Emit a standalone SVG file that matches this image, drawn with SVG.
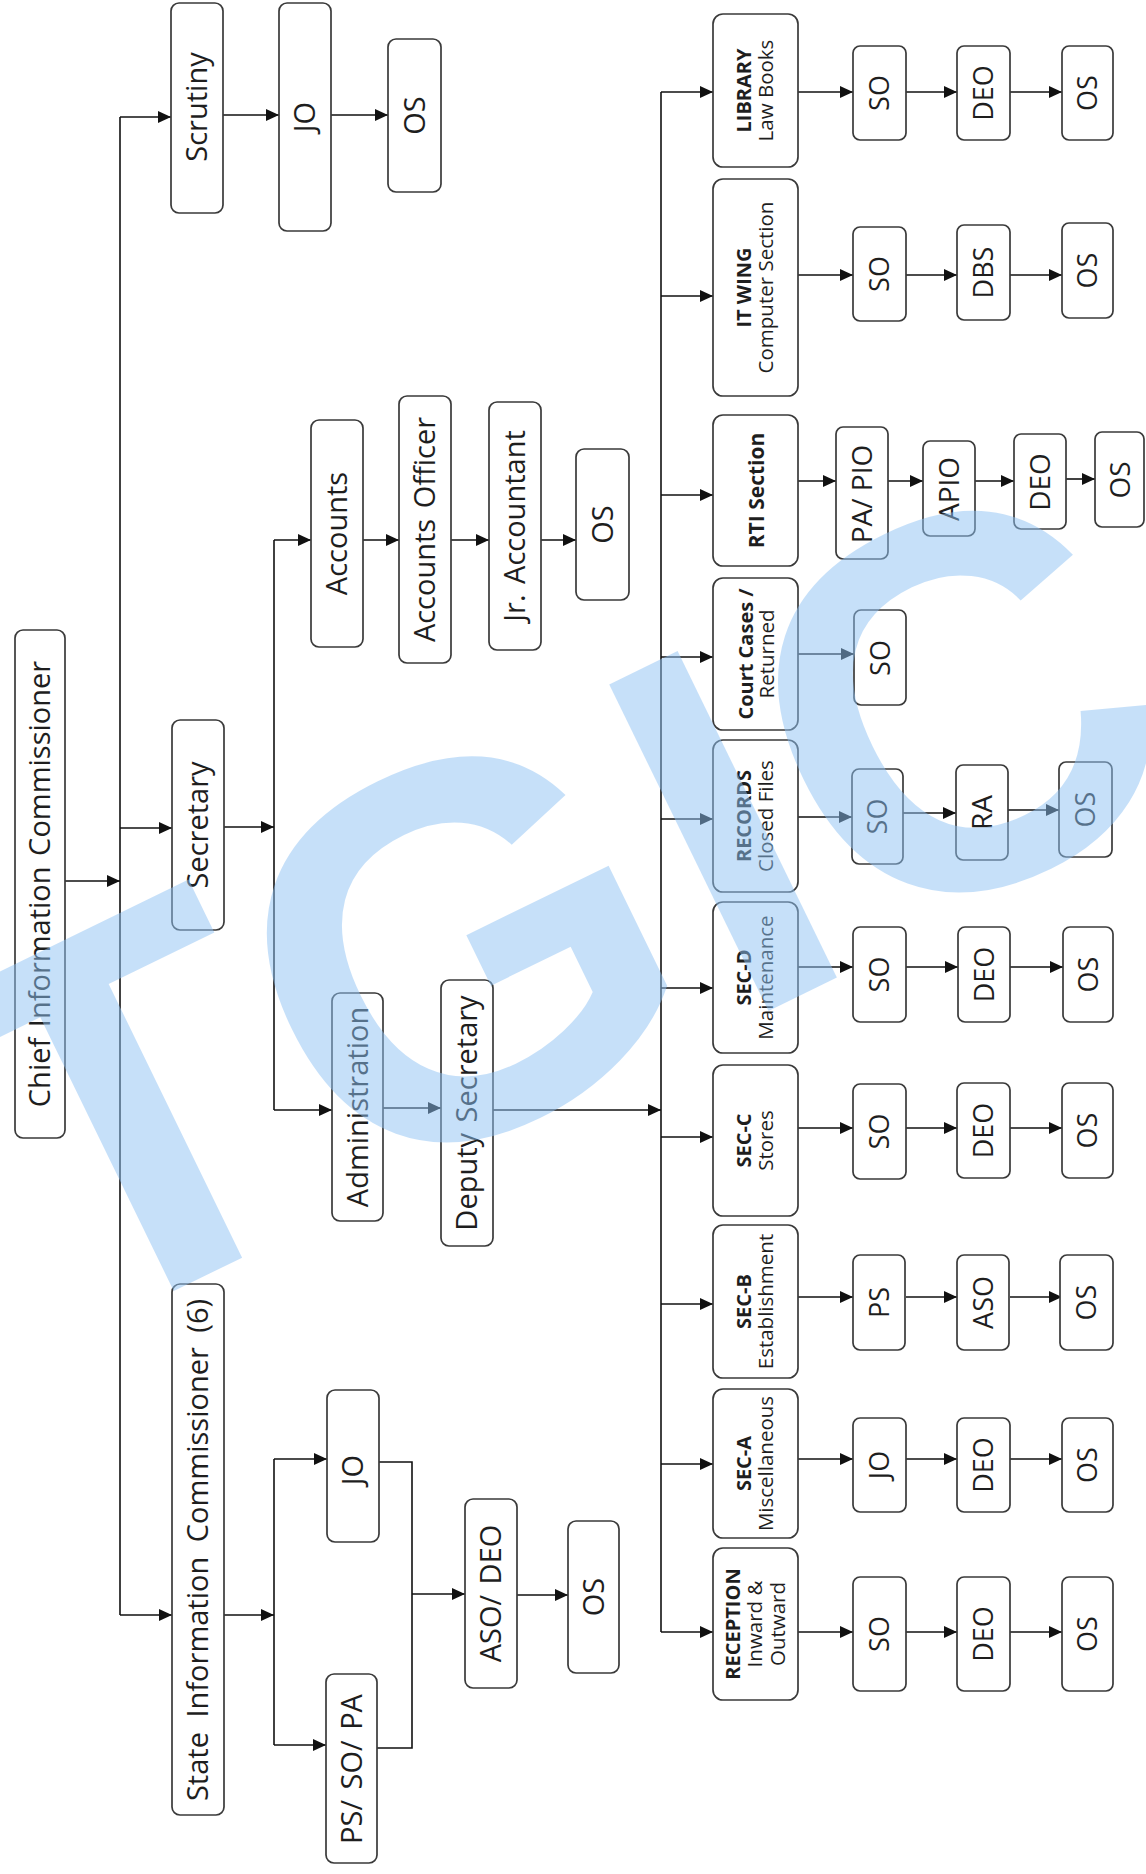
<svg xmlns="http://www.w3.org/2000/svg" width="1146" height="1874" viewBox="0 0 1146 1874">
<style>
.bx{fill:#fff;stroke:#3a3a3a;stroke-width:1.7}
.t{font-family:"Open Sans","DejaVu Sans",sans-serif;fill:#1e1e1e;text-anchor:middle}
.L{font-size:29px;word-spacing:3px}
.S{font-size:27px}
.sb{font-size:20px;font-weight:bold}
.sn{font-size:20.5px}
.cn{fill:none;stroke:#111;stroke-width:1.6}
.wm{font-family:"Liberation Sans",Arial,sans-serif;font-weight:bold;font-size:528px;fill:#8fc3f5;opacity:0.5}
</style>
<defs>
<marker id="ah" markerUnits="userSpaceOnUse" markerWidth="13" markerHeight="12" refX="13" refY="6" orient="auto">
<path d="M0,0 L13,6 L0,12 z" fill="#111"/>
</marker>
</defs>
<rect width="1146" height="1874" fill="#fff"/>

<g id="connectors" class="cn">
<path d="M65,881 H120" marker-end="url(#ah)"/>
<path d="M120,117 V1615"/>
<path d="M120,117 H171" marker-end="url(#ah)"/>
<path d="M223,115 H279" marker-end="url(#ah)"/>
<path d="M331,115 H388" marker-end="url(#ah)"/>
<path d="M120,828 H172" marker-end="url(#ah)"/>
<path d="M224,827 H274" marker-end="url(#ah)"/>
<path d="M274,540 V1110"/>
<path d="M274,540 H311" marker-end="url(#ah)"/>
<path d="M363,540 H399" marker-end="url(#ah)"/>
<path d="M451,540 H489" marker-end="url(#ah)"/>
<path d="M541,540 H576" marker-end="url(#ah)"/>
<path d="M274,1110 H332" marker-end="url(#ah)"/>
<path d="M383,1108 H441" marker-end="url(#ah)"/>
<path d="M493,1110 H661" marker-end="url(#ah)"/>
<path d="M120,1615 H172" marker-end="url(#ah)"/>
<path d="M224,1615 H274" marker-end="url(#ah)"/>
<path d="M274,1459 V1745"/>
<path d="M274,1459 H327" marker-end="url(#ah)"/>
<path d="M274,1745 H326" marker-end="url(#ah)"/>
<path d="M379,1462 H412 V1748 H377"/>
<path d="M412,1594 H465" marker-end="url(#ah)"/>
<path d="M517,1595 H568" marker-end="url(#ah)"/>
<path d="M661,92 V1632"/>
<!-- library -->
<path d="M661,92 H713" marker-end="url(#ah)"/>
<path d="M798,92 H853" marker-end="url(#ah)"/>
<path d="M906,92 H957" marker-end="url(#ah)"/>
<path d="M1010,92 H1062" marker-end="url(#ah)"/>
<!-- IT -->
<path d="M661,296 H713" marker-end="url(#ah)"/>
<path d="M798,275 H853" marker-end="url(#ah)"/>
<path d="M906,275 H957" marker-end="url(#ah)"/>
<path d="M1010,275 H1062" marker-end="url(#ah)"/>
<!-- RTI -->
<path d="M661,495 H713" marker-end="url(#ah)"/>
<path d="M798,481 H836" marker-end="url(#ah)"/>
<path d="M888,481 H923" marker-end="url(#ah)"/>
<path d="M975,481 H1014" marker-end="url(#ah)"/>
<path d="M1066,479 H1095" marker-end="url(#ah)"/>
<!-- court -->
<path d="M661,657 H713" marker-end="url(#ah)"/>
<path d="M798,654 H854" marker-end="url(#ah)"/>
<!-- records -->
<path d="M661,819 H713" marker-end="url(#ah)"/>
<path d="M798,817 H852" marker-end="url(#ah)"/>
<path d="M903,813 H956" marker-end="url(#ah)"/>
<path d="M1008,810 H1059" marker-end="url(#ah)"/>
<!-- SEC-D -->
<path d="M661,988 H713" marker-end="url(#ah)"/>
<path d="M798,967 H853" marker-end="url(#ah)"/>
<path d="M906,967 H958" marker-end="url(#ah)"/>
<path d="M1010,967 H1063" marker-end="url(#ah)"/>
<!-- SEC-C -->
<path d="M661,1137 H713" marker-end="url(#ah)"/>
<path d="M798,1128 H853" marker-end="url(#ah)"/>
<path d="M906,1128 H957" marker-end="url(#ah)"/>
<path d="M1010,1128 H1062" marker-end="url(#ah)"/>
<!-- SEC-B -->
<path d="M661,1304 H713" marker-end="url(#ah)"/>
<path d="M798,1297 H853" marker-end="url(#ah)"/>
<path d="M906,1297 H957" marker-end="url(#ah)"/>
<path d="M1010,1297 H1062" marker-end="url(#ah)"/>
<!-- SEC-A -->
<path d="M661,1464 H713" marker-end="url(#ah)"/>
<path d="M798,1459 H853" marker-end="url(#ah)"/>
<path d="M906,1459 H957" marker-end="url(#ah)"/>
<path d="M1010,1459 H1062" marker-end="url(#ah)"/>
<!-- reception -->
<path d="M661,1632 H713" marker-end="url(#ah)"/>
<path d="M798,1632 H853" marker-end="url(#ah)"/>
<path d="M906,1632 H957" marker-end="url(#ah)"/>
<path d="M1010,1632 H1062" marker-end="url(#ah)"/>
</g>

<!-- left tree -->
<g id="chief"><rect class="bx" x="15" y="630" width="50" height="508" rx="8"/><text class="t L" transform="translate(40,884) rotate(-90)" y="10.4">Chief Information Commissioner</text></g>
<g id="scrutiny"><rect class="bx" x="171" y="3" width="52" height="210" rx="8"/><text class="t L" transform="translate(197,107) rotate(-90)" y="10.4">Scrutiny</text></g>
<g id="scr-jo"><rect class="bx" x="279" y="3" width="52" height="228" rx="8"/><text class="t L" transform="translate(305,117) rotate(-90)" y="10.4">JO</text></g>
<g id="scr-os"><rect class="bx" x="388" y="39" width="53" height="153" rx="8"/><text class="t L" transform="translate(414.5,115.5) rotate(-90)" y="10.4">OS</text></g>
<g id="secretary"><rect class="bx" x="172" y="720" width="52" height="210" rx="8"/><text class="t L" transform="translate(198,825) rotate(-90)" y="10.4">Secretary</text></g>
<g id="accounts"><rect class="bx" x="311" y="420" width="52" height="227" rx="8"/><text class="t L" transform="translate(337,533.5) rotate(-90)" y="10.4">Accounts</text></g>
<g id="acc-officer"><rect class="bx" x="399" y="396" width="52" height="267" rx="8"/><text class="t L" transform="translate(425,529.5) rotate(-90)" y="10.4">Accounts Officer</text></g>
<g id="jr-acc"><rect class="bx" x="489" y="402" width="52" height="248" rx="8"/><text class="t L" transform="translate(515,526) rotate(-90)" y="10.4">Jr. Accountant</text></g>
<g id="acc-os"><rect class="bx" x="576" y="449" width="53" height="151" rx="8"/><text class="t L" transform="translate(602.5,524.5) rotate(-90)" y="10.4">OS</text></g>
<g id="administration"><rect class="bx" x="332" y="993" width="51" height="228" rx="8"/><text class="t L" transform="translate(357.5,1107) rotate(-90)" y="10.4">Administration</text></g>
<g id="deputy"><rect class="bx" x="441" y="980" width="52" height="266" rx="8"/><text class="t L" transform="translate(467,1113) rotate(-90)" y="10.4">Deputy Secretary</text></g>
<g id="sic"><rect class="bx" x="172" y="1284" width="52" height="531" rx="8"/><text class="t L" transform="translate(198,1550) rotate(-90)" y="10.4" style="word-spacing:7px">State Information Commissioner (6)</text></g>
<g id="sic-jo"><rect class="bx" x="327" y="1390" width="52" height="152" rx="8"/><text class="t L" transform="translate(353,1470) rotate(-90)" y="10.4">JO</text></g>
<g id="sic-ps"><rect class="bx" x="326" y="1674" width="51" height="189" rx="8"/><text class="t L" transform="translate(351.5,1769) rotate(-90)" y="10.4">PS/ SO/ PA</text></g>
<g id="sic-aso"><rect class="bx" x="465" y="1499" width="52" height="189" rx="8"/><text class="t L" transform="translate(491,1593.5) rotate(-90)" y="10.4">ASO/ DEO</text></g>
<g id="sic-os"><rect class="bx" x="568" y="1521" width="51" height="152" rx="8"/><text class="t L" transform="translate(593.5,1597) rotate(-90)" y="10.4">OS</text></g>

<!-- sections -->
<g id="library"><rect class="bx" x="713" y="14" width="85" height="153" rx="10"/><text class="t" transform="translate(755.5,90.5) rotate(-90)"><tspan class="sb" x="0" y="-4.5">LIBRARY</tspan><tspan class="sn" x="0" y="17">Law Books</tspan></text></g>
<g id="itwing"><rect class="bx" x="713" y="179" width="85" height="217" rx="10"/><text class="t" transform="translate(755.5,287.5) rotate(-90)"><tspan class="sb" x="0" y="-4.5">IT WING</tspan><tspan class="sn" x="0" y="17">Computer Section</tspan></text></g>
<g id="rti"><rect class="bx" x="713" y="415" width="85" height="151" rx="10"/><text class="t sb" transform="translate(755.5,490.5) rotate(-90)" y="8" style="font-size:21px">RTI Section</text></g>
<g id="court"><rect class="bx" x="713" y="578" width="85" height="152" rx="10"/><text class="t" transform="translate(755.5,654) rotate(-90)"><tspan class="sb" x="0" y="-3">Court Cases /</tspan><tspan class="sn" x="0" y="18">Returned</tspan></text></g>
<g id="records"><rect class="bx" x="713" y="740" width="85" height="152" rx="10"/><text class="t" transform="translate(755.5,816) rotate(-90)"><tspan class="sb" x="0" y="-4.5">RECORDS</tspan><tspan class="sn" x="0" y="17">Closed Files</tspan></text></g>
<g id="secd"><rect class="bx" x="713" y="902" width="85" height="151" rx="10"/><text class="t" transform="translate(755.5,977.5) rotate(-90)"><tspan class="sb" x="0" y="-4.5">SEC-D</tspan><tspan class="sn" x="0" y="17">Maintenance</tspan></text></g>
<g id="secc"><rect class="bx" x="713" y="1065" width="85" height="151" rx="10"/><text class="t" transform="translate(755.5,1140.5) rotate(-90)"><tspan class="sb" x="0" y="-4.5">SEC-C</tspan><tspan class="sn" x="0" y="17">Stores</tspan></text></g>
<g id="secb"><rect class="bx" x="713" y="1225" width="85" height="153" rx="10"/><text class="t" transform="translate(755.5,1301.5) rotate(-90)"><tspan class="sb" x="0" y="-4.5">SEC-B</tspan><tspan class="sn" x="0" y="17">Establishment</tspan></text></g>
<g id="seca"><rect class="bx" x="713" y="1389" width="85" height="149" rx="10"/><text class="t" transform="translate(755.5,1463.5) rotate(-90)"><tspan class="sb" x="0" y="-4.5">SEC-A</tspan><tspan class="sn" x="0" y="17">Miscellaneous</tspan></text></g>
<g id="reception"><rect class="bx" x="713" y="1548" width="85" height="152" rx="10"/><text class="t" transform="translate(755.5,1624) rotate(-90)"><tspan class="sb" x="0" y="-16">RECEPTION</tspan><tspan class="sn" x="0" y="6">Inward &amp;</tspan><tspan class="sn" x="0" y="29">Outward</tspan></text></g>

<!-- chains -->
<g id="lib-so"><rect class="bx" x="853" y="46" width="53" height="94" rx="7"/><text class="t S" transform="translate(879.5,93) rotate(-90)" y="9.7">SO</text></g>
<g id="lib-deo"><rect class="bx" x="957" y="46" width="53" height="94" rx="7"/><text class="t S" transform="translate(983.5,93) rotate(-90)" y="9.7">DEO</text></g>
<g id="lib-os"><rect class="bx" x="1062" y="46" width="51" height="94" rx="7"/><text class="t S" transform="translate(1087.5,93) rotate(-90)" y="9.7">OS</text></g>

<g id="it-so"><rect class="bx" x="853" y="227" width="53" height="94" rx="7"/><text class="t S" transform="translate(879.5,274) rotate(-90)" y="9.7">SO</text></g>
<g id="it-dbs"><rect class="bx" x="957" y="225" width="53" height="95" rx="7"/><text class="t S" transform="translate(983.5,272.5) rotate(-90)" y="9.7">DBS</text></g>
<g id="it-os"><rect class="bx" x="1062" y="223" width="51" height="95" rx="7"/><text class="t S" transform="translate(1087.5,270.5) rotate(-90)" y="9.7">OS</text></g>

<g id="rti-pio"><rect class="bx" x="836" y="427" width="52" height="132" rx="7"/><text class="t S" transform="translate(862,494) rotate(-90)" y="10" style="font-size:28px">PA/ PIO</text></g>
<g id="rti-apio"><rect class="bx" x="923" y="441" width="52" height="95" rx="7"/><text class="t S" transform="translate(949,489) rotate(-90)" y="10" style="font-size:28px">APIO</text></g>
<g id="rti-deo"><rect class="bx" x="1014" y="434" width="52" height="95" rx="7"/><text class="t S" transform="translate(1040,482) rotate(-90)" y="10" style="font-size:28px">DEO</text></g>
<g id="rti-os"><rect class="bx" x="1095" y="432" width="49" height="95" rx="7"/><text class="t S" transform="translate(1119.5,480) rotate(-90)" y="10" style="font-size:28px">OS</text></g>

<g id="court-so"><rect class="bx" x="854" y="610" width="52" height="95" rx="7"/><text class="t S" transform="translate(880,658) rotate(-90)" y="9.7">SO</text></g>

<g id="rec-so"><rect class="bx" x="852" y="769" width="51" height="95" rx="7"/><text class="t S" transform="translate(877.5,816.5) rotate(-90)" y="9.7">SO</text></g>
<g id="rec-ra"><rect class="bx" x="956" y="765" width="52" height="95" rx="7"/><text class="t S" transform="translate(982,812.5) rotate(-90)" y="9.7" style="font-size:28px">RA</text></g>
<g id="rec-os"><rect class="bx" x="1059" y="762" width="53" height="95" rx="7"/><text class="t S" transform="translate(1085.5,809.5) rotate(-90)" y="9.7">OS</text></g>

<g id="d-so"><rect class="bx" x="853" y="927" width="53" height="95" rx="7"/><text class="t S" transform="translate(879.5,974.5) rotate(-90)" y="9.7">SO</text></g>
<g id="d-deo"><rect class="bx" x="958" y="927" width="52" height="95" rx="7"/><text class="t S" transform="translate(984,974.5) rotate(-90)" y="9.7">DEO</text></g>
<g id="d-os"><rect class="bx" x="1063" y="927" width="50" height="95" rx="7"/><text class="t S" transform="translate(1088,974.5) rotate(-90)" y="9.7">OS</text></g>

<g id="c-so"><rect class="bx" x="853" y="1084" width="53" height="95" rx="7"/><text class="t S" transform="translate(879.5,1131.5) rotate(-90)" y="9.7">SO</text></g>
<g id="c-deo"><rect class="bx" x="957" y="1083" width="53" height="95" rx="7"/><text class="t S" transform="translate(983.5,1130.5) rotate(-90)" y="9.7">DEO</text></g>
<g id="c-os"><rect class="bx" x="1062" y="1083" width="51" height="95" rx="7"/><text class="t S" transform="translate(1087.5,1130.5) rotate(-90)" y="9.7">OS</text></g>

<g id="b-ps"><rect class="bx" x="853" y="1255" width="52" height="95" rx="7"/><text class="t S" transform="translate(879,1302.5) rotate(-90)" y="9.7">PS</text></g>
<g id="b-aso"><rect class="bx" x="957" y="1255" width="52" height="95" rx="7"/><text class="t S" transform="translate(983,1302.5) rotate(-90)" y="9.7">ASO</text></g>
<g id="b-os"><rect class="bx" x="1060" y="1255" width="53" height="95" rx="7"/><text class="t S" transform="translate(1086.5,1302.5) rotate(-90)" y="9.7">OS</text></g>

<g id="a-jo"><rect class="bx" x="853" y="1418" width="53" height="94" rx="7"/><text class="t S" transform="translate(879.5,1465) rotate(-90)" y="9.7">JO</text></g>
<g id="a-deo"><rect class="bx" x="957" y="1418" width="53" height="94" rx="7"/><text class="t S" transform="translate(983.5,1465) rotate(-90)" y="9.7">DEO</text></g>
<g id="a-os"><rect class="bx" x="1062" y="1418" width="51" height="94" rx="7"/><text class="t S" transform="translate(1087.5,1465) rotate(-90)" y="9.7">OS</text></g>

<g id="r-so"><rect class="bx" x="853" y="1577" width="53" height="114" rx="7"/><text class="t S" transform="translate(879.5,1634) rotate(-90)" y="9.7">SO</text></g>
<g id="r-deo"><rect class="bx" x="957" y="1577" width="53" height="114" rx="7"/><text class="t S" transform="translate(983.5,1634) rotate(-90)" y="9.7">DEO</text></g>
<g id="r-os"><rect class="bx" x="1062" y="1577" width="51" height="114" rx="7"/><text class="t S" transform="translate(1087.5,1634) rotate(-90)" y="9.7">OS</text></g>

<text class="wm" transform="translate(63,1345) rotate(-26)">TG<tspan dx="12" dy="9">I</tspan><tspan dy="-9">C</tspan></text>
</svg>
